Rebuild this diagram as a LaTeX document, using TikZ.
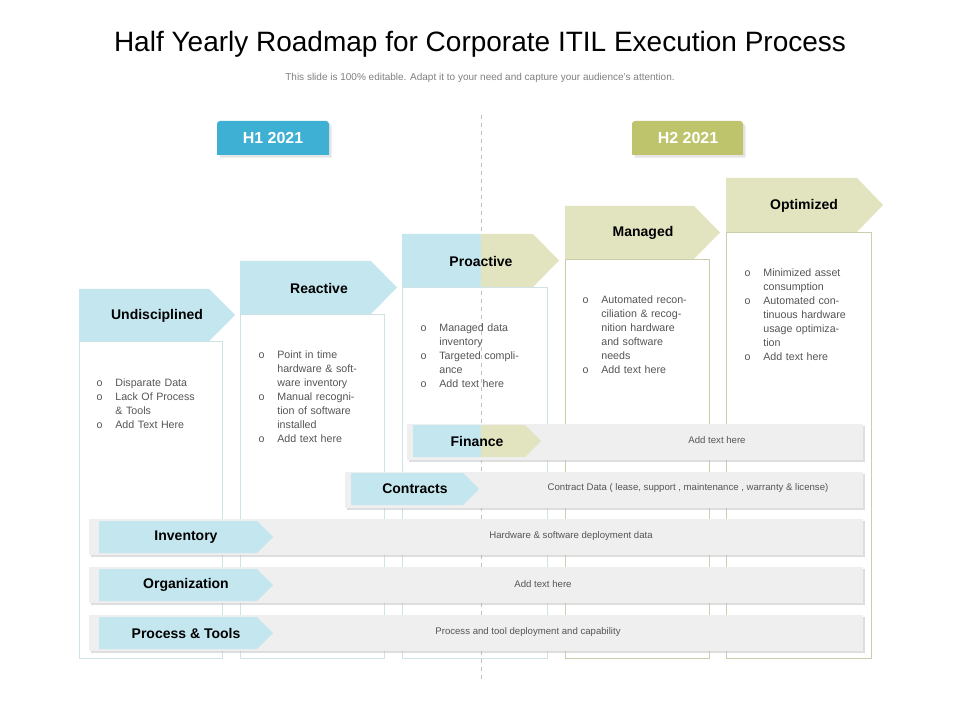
\documentclass[tikz,border=0pt]{standalone}
\usepackage{fontspec}
\setmainfont{Liberation Sans}
\usetikzlibrary{shadows}
\definecolor{lblue}{HTML}{C3E6EF}
\definecolor{lolive}{HTML}{E2E4C0}
\definecolor{dblue}{HTML}{3EB0D3}
\definecolor{dolive}{HTML}{BEC46C}
\definecolor{barg}{HTML}{EFEFEF}
\definecolor{txtg}{HTML}{555555}
\tikzset{
  hdr/.style={font=\fontsize{10.5}{12}\selectfont\bfseries},
  bul/.style={font=\fontsize{8}{10.5}\selectfont, text=txtg, align=left, anchor=north west, text width=80pt},
  bartext/.style={font=\fontsize{7.2}{9}\selectfont, text=txtg},
  bar/.style={fill=barg, draw=none, drop shadow={shadow xshift=1.5pt, shadow yshift=-1.5pt, fill=black!25}},
}
\newcommand{\arrowshape}[6]{% x1 x2 y1 y2 tipdepth color
  \fill[#6] (#1,#3) -- (#2-#5,#3) -- (#2,{(#3+#4)/2}) -- (#2-#5,#4) -- (#1,#4) -- cycle;}
\begin{document}
\begin{tikzpicture}[x=0.75pt,y=-0.75pt]
\useasboundingbox (0,0) rectangle (960,720);
\fill[white] (0,0) rectangle (960,720);
\node (title) at (480,44) {\fontsize{21}{24}\selectfont Half Yearly Roadmap for Corporate ITIL Execution Process};
\node[text=gray] (sub) at (480,78) {\fontsize{7.5}{9}\selectfont This slide is 100\% editable. Adapt it to your need and capture your audience’s attention.};
\draw[dashed, draw=gray!50] (481,115) coordinate (dtop) -- (481,680) coordinate (dbot);
% tabs
\fill[dblue, drop shadow={shadow xshift=2pt,shadow yshift=-2pt,fill=black!20}] (217,155) -- (217,124) to[out=90,in=180] (220,121) -- (326,121) to[out=0,in=90] (329,124) -- (329,155) -- cycle;
\node[text=white, font=\fontsize{12}{14}\selectfont\bfseries] (h1) at (273,138) {H1 2021};
\fill[dolive, drop shadow={shadow xshift=2pt,shadow yshift=-2pt,fill=black!20}] (632,155) -- (632,124) to[out=90,in=180] (635,121) -- (740,121) to[out=0,in=90] (743,124) -- (743,155) -- cycle;
\node[text=white, font=\fontsize{12}{14}\selectfont\bfseries] (h2) at (688,138) {H2 2021};
% column bodies
\draw[draw=lblue!90!black!60, line width=0.6pt] (79,341) rectangle (222,658);
\draw[draw=lblue!90!black!60, line width=0.6pt] (240,314) rectangle (384,658);
\draw[draw=lblue!90!black!60, line width=0.6pt] (402,287) rectangle (547,658);
\draw[draw=lolive!90!black, line width=0.6pt] (565,259) rectangle (709,658);
\draw[draw=lolive!90!black, line width=0.6pt] (726,232) rectangle (871,658);
% headers
\arrowshape{79}{235}{289}{341}{26}{lblue}
\node[hdr] (c1) at (157,316) {Undisciplined};
\arrowshape{240}{397}{261}{314}{26}{lblue}
\node[hdr] (c2) at (319,288) {Reactive};
\begin{scope}
\clip (402,234) rectangle (481,287);
\arrowshape{402}{559}{234}{287}{26}{lblue}
\end{scope}
\begin{scope}
\clip (481,234) rectangle (560,287);
\arrowshape{402}{559}{234}{287}{26}{lolive}
\end{scope}
\node[hdr] (c3) at (481,261) {Proactive};
\arrowshape{565}{720}{206}{259}{26}{lolive}
\node[hdr] (c4) at (643,233) {Managed};
\arrowshape{726}{883}{178}{232}{26}{lolive}
\node[hdr] (c5) at (804,206) {Optimized};
% bullets
\newcommand{\bl}{\makebox[18pt][l]{o}}
\node[bul] (b1) at (92,374) {\hangindent=14pt\makebox[14pt][l]{o}Disparate Data\par\hangindent=14pt\makebox[14pt][l]{o}Lack Of Process \& Tools\par\hangindent=14pt\makebox[14pt][l]{o}Add Text Here};
\node[bul] (b2) at (254,346) {\hangindent=14pt\makebox[14pt][l]{o}Point in time hardware \& software inventory\par\hangindent=14pt\makebox[14pt][l]{o}Manual recognition of software installed\par\hangindent=14pt\makebox[14pt][l]{o}Add text here};
\node[bul] (b3) at (416,319) {\hangindent=14pt\makebox[14pt][l]{o}Managed data inventory\par\hangindent=14pt\makebox[14pt][l]{o}Targeted compliance\par\hangindent=14pt\makebox[14pt][l]{o}Add text here};
\node[bul] (b4) at (578,291) {\hangindent=14pt\makebox[14pt][l]{o}Automated reconciliation \& recognition hardware and software needs\par\hangindent=14pt\makebox[14pt][l]{o}Add text here};
\node[bul] (b5) at (740,264) {\hangindent=14pt\makebox[14pt][l]{o}Minimized asset consumption\par\hangindent=14pt\makebox[14pt][l]{o}Automated continuous hardware usage optimization\par\hangindent=14pt\makebox[14pt][l]{o}Add text here};
% bars
\path[bar] (407,424) rectangle (863,460);
\begin{scope}
\clip (413,425) rectangle (481,457);
\arrowshape{413}{541}{425}{457}{16}{lblue}
\end{scope}
\begin{scope}
\clip (481,425) rectangle (542,457);
\arrowshape{413}{541}{425}{457}{16}{lolive}
\end{scope}
\node[hdr] (fin) at (477,441) {Finance};
\node[bartext] (fint) at (717,440) {Add text here};
\path[bar] (345,472) rectangle (863,508);
\arrowshape{351}{479}{473}{505}{16}{lblue}
\node[hdr] (con) at (415,489) {Contracts};
\node[bartext] (cont) at (688,488) {Contract Data ( lease, support , maintenance , warranty \& license)};
\path[bar] (89,519) rectangle (863,555);
\arrowshape{99}{273}{521}{553}{16}{lblue}
\node[hdr] (inv) at (186,537) {Inventory};
\node[bartext] (invt) at (571,536) {Hardware \& software deployment data};
\path[bar] (89,567) rectangle (863,603);
\arrowshape{99}{273}{569}{601}{16}{lblue}
\node[hdr] (org) at (186,585) {Organization};
\node[bartext] (orgt) at (543,584) {Add text here};
\path[bar] (89,615) rectangle (863,651);
\arrowshape{99}{273}{617}{649}{16}{lblue}
\node[hdr] (pro) at (186,633) {Process \& Tools};
\node[bartext] (prot) at (528,632) {Process and tool deployment and capability};
\end{tikzpicture}
\end{document}
